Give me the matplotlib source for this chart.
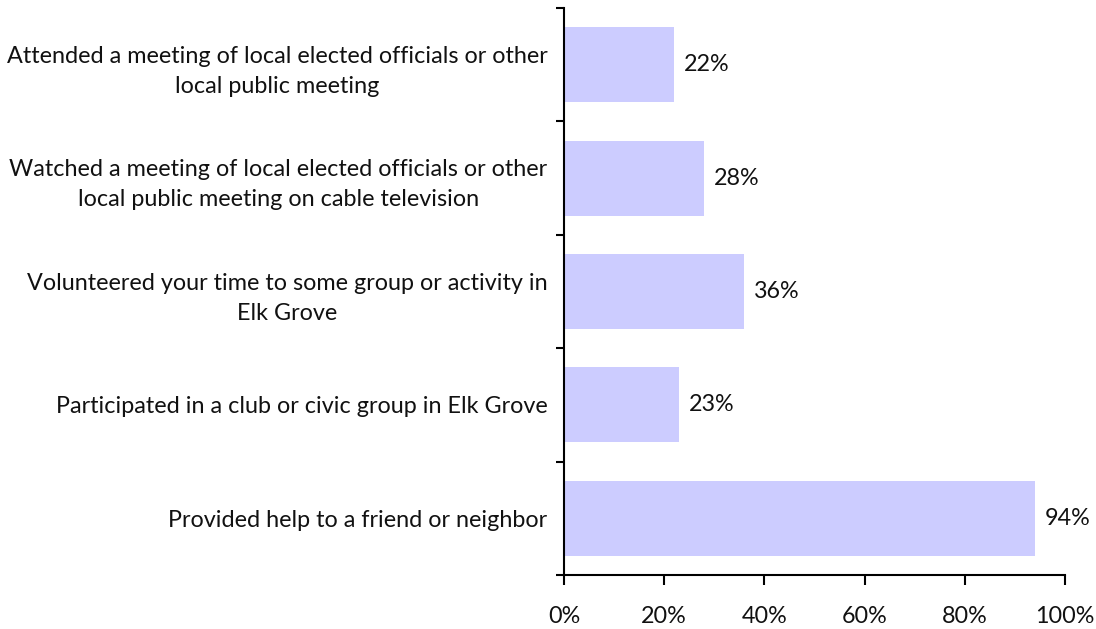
import matplotlib
matplotlib.use("Agg")
import matplotlib.pyplot as plt
from matplotlib.ticker import FixedLocator, PercentFormatter

categories = [
    "Attended a meeting of local elected officials or other\nlocal public meeting",
    "Watched a meeting of local elected officials or other\nlocal public meeting on cable television",
    "Volunteered your time to some group or activity in\nElk Grove",
    "Participated in a club or civic group in Elk Grove",
    "Provided help to a friend or neighbor",
]
values = [22, 28, 36, 23, 94]
xticks = [0, 20, 40, 60, 80, 100]

FS = 16.8
plt.rcParams['font.family'] = ['Lato', 'DejaVu Sans']
fig = plt.figure(figsize=(10.96, 6.29), dpi=100)
ax = fig.add_axes([564/1096, 1-575/629, (1065-564)/1096, (575-8)/629])

n = len(categories)
ypos = list(range(n))
ax.barh(ypos, values, height=0.66, color="#CCCCFF", edgecolor="none")
ax.set_ylim(n-0.5, -0.5)
ax.set_xlim(0, 100)

for y, v in zip(ypos, values):
    ax.text(v + 2, y, f"{v}%", va="center", ha="left", fontsize=FS, color="#111111")

ax.set_yticks(ypos)
ax.set_yticklabels(categories, fontsize=FS, ha="right", multialignment="center",
                   color="#111111", linespacing=1.55)
ax.tick_params(axis="y", which="major", length=0, pad=12)
ax.yaxis.set_minor_locator(FixedLocator([i - 0.5 for i in range(n + 1)]))
ax.tick_params(axis="y", which="minor", length=6, width=1.5, direction="out")

ax.set_xticks(xticks)
ax.xaxis.set_major_formatter(PercentFormatter(100, decimals=0))
ax.tick_params(axis="x", length=7, width=1.5, direction="out", pad=15, labelsize=FS, labelcolor="#111111")

for s in ["top", "right"]:
    ax.spines[s].set_visible(False)
for s in ["left", "bottom"]:
    ax.spines[s].set_linewidth(1.5)

fig.savefig("out.png", dpi=100)
